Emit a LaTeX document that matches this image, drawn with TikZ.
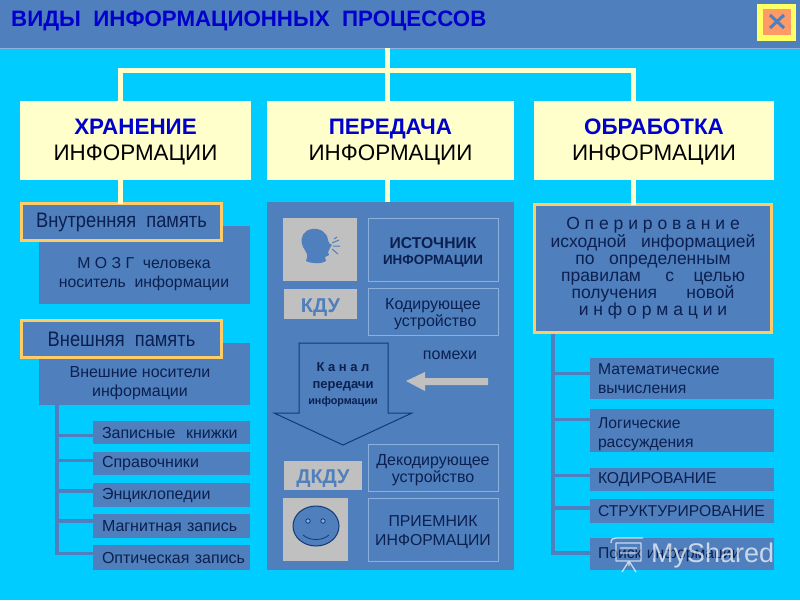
\documentclass[tikz,border=0pt]{standalone}
\usepackage{fontspec}
\usepackage{graphicx}
\setmainfont{Liberation Sans}
\definecolor{sky}{HTML}{00CCFF}
\definecolor{panel}{HTML}{4F7FBC}
\definecolor{cream}{HTML}{FFFFCC}
\definecolor{gold}{HTML}{FFCC66}
\definecolor{ttl}{HTML}{0000CC}
\definecolor{ink}{HTML}{0B2050}
\definecolor{grayb}{HTML}{C0C0C0}
\definecolor{lite}{HTML}{8CB0DC}
\definecolor{dk}{HTML}{123A78}
\definecolor{clsy}{HTML}{FFFF66}
\definecolor{clso}{HTML}{FF9966}
\tikzset{
 boxbase/.style={inner sep=0pt,outer sep=0pt,align=center,text=ink},
 head/.style={boxbase,fill=cream,text=black,font=\fontsize{22.4}{26}\selectfont},
 panelbox/.style={boxbase,fill=panel},
 goldbox/.style={boxbase,fill=panel,draw=gold,line width=3pt},
 outl/.style={boxbase,draw=lite,line width=1pt},
 graybox/.style={boxbase,fill=grayb,text=panel,font=\bfseries\fontsize{20}{22}\selectfont},
 leftbox/.style={boxbase,fill=panel,align=left,font=\fontsize{16}{20}\selectfont},
 rightbox/.style={boxbase,fill=panel,align=left,font=\fontsize{15.7}{19}\selectfont,text width=168pt},
 creamline/.style={draw=cream,line width=5pt},
 treeline/.style={draw=panel,line width=3.5pt},
 small/.style={font=\fontsize{16}{17.5}\selectfont},
 memlabel/.style={goldbox,font=\fontsize{21}{23}\selectfont},
 plaintext/.style={boxbase,font=\fontsize{15.8}{19.5}\selectfont},
}
\newcommand{\bx}[7]{% style, name, x1,y1,x2,y2, text
 \pgfmathsetlengthmacro{\bw}{#5-#3}\pgfmathsetlengthmacro{\bh}{#6-#4}
 \pgfmathsetmacro{\cx}{(#3+#5)/2}\pgfmathsetmacro{\cy}{(#4+#6)/2}
 \node[#1,minimum width=\bw,minimum height=\bh] (#2) at (\cx,\cy) {#7};}
\newcommand{\dn}[1]{\rule{0pt}{#1}}
\newcommand{\hd}[1]{\dn{18pt}{\bfseries\color{ttl}#1}\\ИНФОРМАЦИИ}
\begin{document}
\begin{tikzpicture}[x=1pt,y=-1pt]
\useasboundingbox (0,0) rectangle (800,600);
\fill[sky] (0,0) rectangle (800,600);
% header
\bx{panelbox}{hdr}{0}{0}{800}{48}{}
\draw[draw=lite,line width=1pt] (0,48) -- (800,48);
\node[anchor=west,inner sep=0pt,text=ttl,font=\bfseries\fontsize{22.3}{24}\selectfont] (title) at (11,21) {ВИДЫ\ \ ИНФОРМАЦИОННЫХ\ \ ПРОЦЕССОВ};
\bx{boxbase,fill=clsy}{closeo}{757}{4}{796}{41}{}
\bx{boxbase,fill=clso}{closei}{763}{9}{791}{35}{}
\draw[panel,line width=3pt] (770,15) -- (784,28) (784,15) -- (770,28);
% top-level boxes
\bx{head}{store}{20}{101}{251}{180}{\hd{ХРАНЕНИЕ}}
\bx{head}{trans}{267}{101}{514}{180}{\hd{ПЕРЕДАЧА}}
\bx{head}{proc}{534}{101}{774}{180}{\hd{ОБРАБОТКА}}
% bus
\coordinate (b0) at (387,70);
\coordinate (bl) at (120,70);
\coordinate (br) at (633,70);
\draw[creamline] (b0|-hdr.south) -- (b0|-trans.north);
\draw[creamline,line cap=rect] (bl|-store.north) -- (bl) -- (br) -- (br|-proc.north);
% left column
\bx{panelbox}{brain}{39}{226}{250}{304}{}
\node[plaintext] (braint) at (144,274) {М О З Г\ \ человека\\носитель\ \ информации};
\bx{memlabel}{inner}{21.5}{203.5}{221.5}{240.5}{\scalebox{.87}[1]{Внутренняя\ \ память}}
\draw[creamline] (bl|-store.south) -- (bl|-inner.north);
\bx{panelbox}{media}{39}{343}{250}{405}{}
\node[plaintext,font=\fontsize{16}{19}\selectfont] (mediat) at (140,383) {Внешние носители\\информации};
\bx{memlabel}{outer}{21.5}{320.5}{221.5}{357.5}{\scalebox{.87}[1]{Внешняя\ \ память}}
\bx{leftbox,text width=139pt}{l1}{93}{421}{250}{444}{\mbox{Записные\ \ книжки}}
\bx{leftbox,text width=139pt}{l2}{93}{452}{250}{475}{\mbox{Справочники}}
\bx{leftbox,text width=139pt}{l3}{93}{483}{250}{507}{\mbox{Энциклопедии}}
\bx{leftbox,text width=139pt}{l4}{93}{514}{250}{538}{\mbox{Магнитная запись}}
\bx{leftbox,text width=139pt}{l5}{93}{545}{250}{570}{\mbox{Оптическая запись}}
\coordinate (tl) at (57,405);
\draw[treeline] (tl) -- ([yshift=4pt]l5.west-|tl) -- ([yshift=4pt]l5.west);
\draw[treeline] ([yshift=-3pt]l1.west-|tl) -- ([yshift=-3pt]l1.west);
\draw[treeline] ([yshift=3pt]l2.west-|tl) -- ([yshift=3pt]l2.west);
\draw[treeline] ([yshift=4pt]l3.west-|tl) -- ([yshift=4pt]l3.west);
\draw[treeline] ([yshift=5pt]l4.west-|tl) -- ([yshift=5pt]l4.west);
% middle panel
\bx{panelbox}{mid}{267}{202}{514}{570}{}
\draw[creamline] (b0|-trans.south) -- (b0|-mid.north);
\bx{graybox}{speak}{283}{218}{357}{281}{}
\fill[panel] (328,240) .. controls (327,232) and (320,228) .. (312,229)
  .. controls (304,230) and (300,237) .. (302,244)
  .. controls (303,249) and (306,250) .. (307,254)
  .. controls (308,258) and (306,259) .. (306,261)
  .. controls (312,264) and (322,264) .. (326,261)
  -- (325,257) -- (329,255) -- (328,252) -- (331,246) -- (332,245) -- (329,243) -- cycle;
\draw[panel,line width=1pt] (332,243) -- (339,240) (333,246) -- (340,246) (332,249) -- (338,254) (334,239) -- (337,237);
\bx{outl,font=\bfseries\fontsize{15.7}{16.5}\selectfont}{src}{368}{218}{498}{281}{\dn{17pt}ИСТОЧНИК\\{\fontsize{13.4}{16.5}\selectfont ИНФОРМАЦИИ}}
\bx{graybox}{kdu}{284}{289}{357}{319}{\dn{20pt}КДУ}
\bx{outl,small}{enc}{368}{288}{498}{335}{\dn{16pt}Кодирующее\hspace{4pt}\\\ устройство\hspace{4pt}}
\node[inner sep=0pt,text=ink,font=\fontsize{16}{18}\selectfont] (noise) at (450,355) {помехи};
\fill[grayb] (488,378) -- (425,378) -- (425,372) -- (406,381) -- (425,391) -- (425,385) -- (488,385) -- cycle;
\draw[dk,line width=1pt] (299,343) -- (388,343) -- (388,413) -- (412,413) -- (343,445) -- (274,413) -- (299,413) -- cycle;
\node[boxbase,font=\bfseries\fontsize{13}{16.5}\selectfont] (chant) at (343,385) {К а н а л\\передачи\\{\fontsize{10.8}{16.5}\selectfont информации}};
\bx{outl,small}{dec}{368}{444}{498}{491}{\dn{16pt}Декодирующее\\устройство}
\bx{graybox}{dkdu}{284}{461}{362}{490}{\dn{19pt}ДКДУ}
\bx{graybox}{smile}{283}{498}{348}{561}{}
\draw[fill=panel,draw=dk,line width=1pt] (316,526) ellipse [x radius=23,y radius=20];
\draw[dk,line width=.8pt,fill=lite] (308,521) circle (2.2) (323,521) circle (2.2);
\draw[dk,line width=.8pt] (303,535) .. controls (310,541) and (322,541) .. (329,535);
\bx{outl,font=\fontsize{15.8}{19}\selectfont}{recv}{368}{498}{498}{561}{\dn{16pt}ПРИЕМНИК\\ИНФОРМАЦИИ}
% right column
\bx{goldbox,font=\fontsize{17.5}{17.2}\selectfont}{oper}{534.5}{204.5}{771.5}{332.5}{О п е р и р о в а н и е\\исходной\ \ \ информацией\\по\ \ \ определенным\\правилам\ \ \ \ \ с\ \ \ \ целью\\получения\ \ \ \ \ \ новой\\и н ф о р м а ц и и}
\draw[creamline] (br|-proc.south) -- (br|-oper.north);
\bx{rightbox}{r1}{590}{358}{774}{399}{Математические\\вычисления}
\bx{rightbox}{r2}{590}{409}{774}{452}{\dn{18pt}Логические\\рассуждения}
\bx{rightbox}{r3}{590}{468}{774}{491}{КОДИРОВАНИЕ}
\bx{rightbox}{r4}{590}{499}{774}{523}{СТРУКТУРИРОВАНИЕ}
\bx{rightbox}{r5}{590}{538}{774}{570}{Поиск информации}
\coordinate (tr) at (553,334);
\draw[treeline] (tr) -- ([yshift=1pt]r5.west-|tr) -- ([yshift=1pt]r5.west);
\draw[treeline] ([yshift=5pt]r1.west-|tr) -- ([yshift=5pt]r1.west);
\draw[treeline] ([yshift=11pt]r2.west-|tr) -- ([yshift=11pt]r2.west);
\draw[treeline] ([yshift=4pt]r3.west-|tr) -- ([yshift=4pt]r3.west);
\draw[treeline] ([yshift=3pt]r4.west-|tr) -- ([yshift=3pt]r4.west);
% watermark
\begin{scope}[white,opacity=.7]
\draw[line width=1.3pt,line join=round] (616,543) rectangle (641,561) (611,543) .. controls (611,539) and (613,538) .. (616,538) -- (643,538) (629,561) -- (629,566) (629,561) -- (622,572) (629,561) -- (636,572) (620,548) -- (637,548) (620,553) -- (637,553);
\node[inner sep=0pt,anchor=west,text=white,font=\fontsize{27}{30}\selectfont] (wm) at (651,556) {MyShared};
\end{scope}
\end{tikzpicture}
\end{document}
